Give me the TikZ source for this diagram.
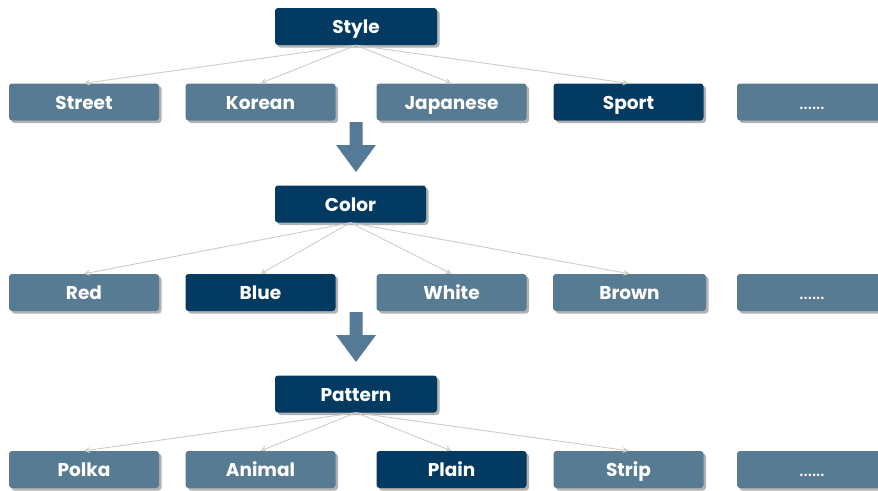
\documentclass[tikz,border=0pt]{standalone}
\usepackage{fontspec}
\setmainfont{Poppins}
\usetikzlibrary{shadows,arrows.meta}
\definecolor{navy}{HTML}{023A62}
\definecolor{steel}{HTML}{587B94}
\definecolor{linkgray}{HTML}{CFCDC6}
\definecolor{bigarrow}{HTML}{557A95}
\tikzset{
  box/.style={rounded corners=3pt, minimum height=37pt, inner sep=0pt,
    text=white, font=\fontsize{18.5}{20}\selectfont\bfseries,
    text height=16pt, text depth=2pt,
    drop shadow={shadow xshift=2.5pt, shadow yshift=-2.5pt, fill=black!30, opacity=1}},
  dark/.style={box, fill=navy},
  light/.style={box, fill=steel},
  dots/.style={light, font=\fontsize{20}{22}\selectfont},
  link/.style={draw=linkgray, line width=0.9pt, -{Stealth[length=6pt,width=6pt,open]}},
  bigdown/.style={fill=bigarrow, draw=none}
}
\begin{document}
\begin{tikzpicture}[x=1pt,y=-1pt]
\useasboundingbox (0,0) rectangle (878,490);
% level 1
\node[dark, minimum width=162pt] (style) at (356,26.5) {Style};
\node[light, minimum width=150pt] (street) at (84,102) {Street};
\node[light, minimum width=150pt] (korean) at (260.5,102) {Korean};
\node[light, minimum width=150pt] (japanese) at (451.5,102) {Japanese};
\node[dark, minimum width=150pt] (sport) at (628.5,102) {Sport};
\node[dots, minimum width=150pt] (more1) at (812,102) {......};
\foreach \c in {street,korean,japanese,sport} \draw[link] (style.south) -- (\c.north);
% big arrow 1
\fill[bigdown] (349.5,122) -- (362.5,122) -- (362.5,145) -- (376,145) -- (356,172) -- (336,145) -- (349.5,145) -- cycle;
% level 2
\node[dark, minimum width=151pt] (color) at (350.5,204) {Color};
\node[light, minimum width=150pt] (red) at (84,292.5) {Red};
\node[dark, minimum width=150pt] (blue) at (260.5,292.5) {Blue};
\node[light, minimum width=150pt] (white) at (451.5,292.5) {White};
\node[light, minimum width=153pt] (brown) at (629.5,292.5) {Brown};
\node[dots, minimum width=150pt] (more2) at (812,292.5) {......};
\foreach \c in {red,blue,white,brown} \draw[link] (color.south) -- (\c.north);
% big arrow 2
\fill[bigdown] (349.5,312) -- (362.5,312) -- (362.5,335) -- (376,335) -- (356,362) -- (336,335) -- (349.5,335) -- cycle;
% level 3
\node[dark, minimum width=162pt] (pattern) at (356,394) {Pattern};
\node[light, minimum width=150pt] (polka) at (84,469.5) {Polka};
\node[light, minimum width=150pt] (animal) at (260.5,469.5) {Animal};
\node[dark, minimum width=150pt] (plain) at (451.5,469.5) {Plain};
\node[light, minimum width=150pt] (strip) at (628.5,469.5) {Strip};
\node[dots, minimum width=150pt] (more3) at (812,469.5) {......};
\foreach \c in {polka,animal,plain,strip} \draw[link] (pattern.south) -- (\c.north);
\end{tikzpicture}
\end{document}
